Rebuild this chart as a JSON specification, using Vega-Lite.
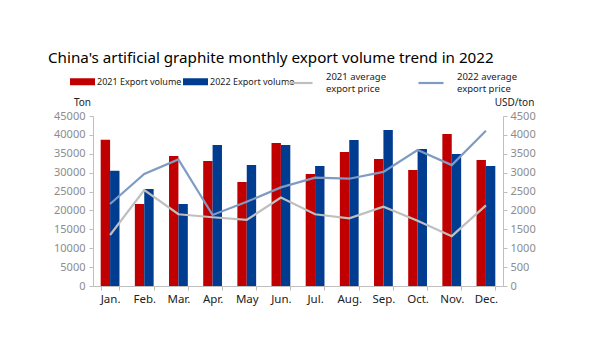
{
  "$schema": "https://vega.github.io/schema/vega-lite/v6.json",
  "width": 410,
  "height": 170,
  "autosize": {"type": "none"},
  "padding": {"left": 93, "top": 116, "right": 87, "bottom": 77},
  "background": "white",
  "config": {"font": "Noto Sans", "view": {"stroke": null}},
  "title": {
    "text": "China's artificial graphite monthly export volume trend in 2022",
    "anchor": "start",
    "frame": "group",
    "dx": -45,
    "offset": 3,
    "fontSize": 15.2,
    "fontWeight": "normal",
    "color": "#000000",
    "font": "Noto Sans"
  },
  "data": {
    "values": [
      {"month": "Jan.", "vol2021": 38700, "vol2022": 30500, "p2021": 1350, "p2022": 2170},
      {"month": "Feb.", "vol2021": 21700, "vol2022": 25700, "p2021": 2540, "p2022": 2965},
      {"month": "Mar.", "vol2021": 34400, "vol2022": 21700, "p2021": 1900, "p2022": 3350},
      {"month": "Apr.", "vol2021": 33100, "vol2022": 37300, "p2021": 1820, "p2022": 1880},
      {"month": "May", "vol2021": 27500, "vol2022": 32000, "p2021": 1750, "p2022": 2230},
      {"month": "Jun.", "vol2021": 37850, "vol2022": 37300, "p2021": 2340, "p2022": 2610},
      {"month": "Jul.", "vol2021": 29650, "vol2022": 31750, "p2021": 1900, "p2022": 2870},
      {"month": "Aug.", "vol2021": 35450, "vol2022": 38650, "p2021": 1790, "p2022": 2840},
      {"month": "Sep.", "vol2021": 33600, "vol2022": 41300, "p2021": 2100, "p2022": 3020},
      {"month": "Oct.", "vol2021": 30700, "vol2022": 36250, "p2021": 1730, "p2022": 3600},
      {"month": "Nov.", "vol2021": 40250, "vol2022": 34950, "p2021": 1320, "p2022": 3200},
      {"month": "Dec.", "vol2021": 33350, "vol2022": 31750, "p2021": 2135, "p2022": 4110}
    ]
  },
  "encoding": {
    "x": {
      "field": "month",
      "type": "nominal",
      "sort": null,
      "scale": {"paddingInner": 0.45, "paddingOuter": 0.225},
      "axis": {
        "title": null,
        "labelAngle": 0,
        "labelFontSize": 11.5,
        "labelColor": "#222222",
        "labelPadding": 3,
        "tickBand": "extent",
        "tickSize": 4,
        "tickColor": "#bfbfbf",
        "domainColor": "#bfbfbf"
      }
    }
  },
  "layer": [
    {
      "transform": [
        {"fold": ["vol2021", "vol2022"], "as": ["key", "volume"]},
        {"calculate": "datum.key == 'vol2021' ? '2021 Export volume' : '2022 Export volume'", "as": "series"}
      ],
      "mark": {"type": "bar"},
      "encoding": {
        "xOffset": {"field": "series", "type": "nominal"},
        "y": {
          "field": "volume",
          "type": "quantitative",
          "scale": {"domain": [0, 45000]},
          "axis": {
            "title": "Ton",
            "titleAngle": 0,
            "titleX": -11,
            "titleY": -14,
            "titleAlign": "center",
            "titleBaseline": "middle",
            "titleFontSize": 10,
            "titleFontWeight": "normal",
            "titleColor": "#222222",
            "values": [0, 5000, 10000, 15000, 20000, 25000, 30000, 35000, 40000, 45000],
            "format": "d",
            "grid": false,
            "labelColor": "#8c8c8c",
            "labelFontSize": 11,
            "labelPadding": 4,
            "tickSize": 4,
            "tickColor": "#bfbfbf",
            "domainColor": "#bfbfbf"
          }
        },
        "fill": {
          "field": "series",
          "type": "nominal",
          "scale": {"domain": ["2021 Export volume", "2022 Export volume"], "range": ["#C00000", "#003C8F"]},
          "legend": {
            "orient": "none",
            "legendX": -23,
            "legendY": -47,
            "direction": "horizontal",
            "title": null,
            "symbolType": "M-1,-0.28H1V0.28H-1Z",
            "symbolSize": 625,
            "symbolStrokeWidth": 0,
            "labelFontSize": 9,
            "labelColor": "#222222",
            "labelOffset": 2,
            "columnPadding": 1
          }
        }
      }
    },
    {
      "transform": [
        {"fold": ["p2021", "p2022"], "as": ["key", "price"]},
        {"calculate": "datum.key == 'p2021' ? '2021 average export price' : '2022 average export price'", "as": "pseries"}
      ],
      "mark": {"type": "line", "strokeWidth": 2.2},
      "encoding": {
        "y": {
          "field": "price",
          "type": "quantitative",
          "scale": {"domain": [0, 4500]},
          "axis": {
            "orient": "right",
            "title": "USD/ton",
            "titleAngle": 0,
            "titleX": 11,
            "titleY": -14,
            "titleAlign": "center",
            "titleBaseline": "middle",
            "titleFontSize": 10,
            "titleFontWeight": "normal",
            "titleColor": "#222222",
            "values": [0, 500, 1000, 1500, 2000, 2500, 3000, 3500, 4000, 4500],
            "format": "d",
            "grid": false,
            "labelColor": "#8c8c8c",
            "labelFontSize": 11,
            "labelPadding": 3,
            "tickSize": 4,
            "tickColor": "#bfbfbf",
            "domainColor": "#bfbfbf"
          }
        },
        "stroke": {
          "field": "pseries",
          "type": "nominal",
          "scale": {"domain": ["2021 average export price", "2022 average export price"], "range": ["#BFBFBF", "#7F9BC4"]},
          "legend": {
            "orient": "none",
            "legendX": 193,
            "legendY": -47,
            "direction": "horizontal",
            "title": null,
            "symbolType": "stroke",
            "symbolSize": 625,
            "symbolStrokeWidth": 2.2,
            "labelFontSize": 9.5,
            "labelColor": "#222222",
            "labelOffset": 12,
            "columnPadding": 28,
            "labelExpr": "datum.label == '2021 average export price' ? ['2021 average', 'export price'] : ['2022 average', 'export price']",
            "encode": {"labels": {"update": {"dy": {"value": -6}}}}
          }
        }
      }
    }
  ],
  "resolve": {"scale": {"y": "independent"}}
}
